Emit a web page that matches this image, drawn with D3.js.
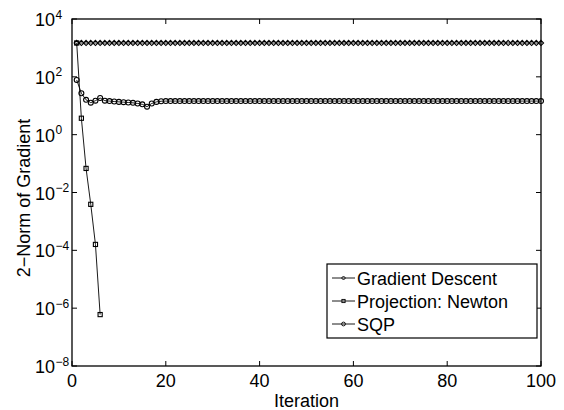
<!DOCTYPE html>
<html>
<head>
<meta charset="utf-8">
<script src="https://cdn.jsdelivr.net/npm/d3@7"></script>
<style>
body { margin: 0; background: #fff; }
text { font-family: "Liberation Sans", Arial, Helvetica, sans-serif; fill: #000; }
</style>
</head>
<body>
<div id="vis"></div>
<script>
// values, one per iteration (starting at 1)
var gradDescent = [
	1480, 1480, 1480, 1480, 1480, 1480, 1480, 1480, 1480, 1480,
	1480, 1480, 1480, 1480, 1480, 1480, 1480, 1480, 1480, 1480,
	1480, 1480, 1480, 1480, 1480, 1480, 1480, 1480, 1480, 1480,
	1480, 1480, 1480, 1480, 1480, 1480, 1480, 1480, 1480, 1480,
	1480, 1480, 1480, 1480, 1480, 1480, 1480, 1480, 1480, 1480,
	1480, 1480, 1480, 1480, 1480, 1480, 1480, 1480, 1480, 1480,
	1480, 1480, 1480, 1480, 1480, 1480, 1480, 1480, 1480, 1480,
	1480, 1480, 1480, 1480, 1480, 1480, 1480, 1480, 1480, 1480,
	1480, 1480, 1480, 1480, 1480, 1480, 1480, 1480, 1480, 1480,
	1480, 1480, 1480, 1480, 1480, 1480, 1480, 1480, 1480, 1480
];

var projNewton = [1480, 3.7, 0.068, 0.0039, 1.6e-4, 6e-7];

var sqp = [
	78, 27, 16, 12.8, 15, 18.5, 15, 14.5, 14, 13.6,
	13.3, 13, 12.6, 12, 11.2, 9.3, 12, 13.6, 14.3, 14.5,
	14.5, 14.5, 14.5, 14.5, 14.5, 14.5, 14.5, 14.5, 14.5, 14.5,
	14.5, 14.5, 14.5, 14.5, 14.5, 14.5, 14.5, 14.5, 14.5, 14.5,
	14.5, 14.5, 14.5, 14.5, 14.5, 14.5, 14.5, 14.5, 14.5, 14.5,
	14.5, 14.5, 14.5, 14.5, 14.5, 14.5, 14.5, 14.5, 14.5, 14.5,
	14.5, 14.5, 14.5, 14.5, 14.5, 14.5, 14.5, 14.5, 14.5, 14.5,
	14.5, 14.5, 14.5, 14.5, 14.5, 14.5, 14.5, 14.5, 14.5, 14.5,
	14.5, 14.5, 14.5, 14.5, 14.5, 14.5, 14.5, 14.5, 14.5, 14.5,
	14.5, 14.5, 14.5, 14.5, 14.5, 14.5, 14.5, 14.5, 14.5, 14.5
];

var seriesNames = ["Gradient Descent", "Projection: Newton", "SQP"];
var xTicks = [0, 20, 40, 60, 80, 100];
var yExponents = [4, 2, 0, -2, -4, -6, -8];

// size and margins
var width = 564;
var height = 410;
var margin = { top: 19, left: 72, bottom: 44, right: 23 };
var w = width - margin.left - margin.right;
var h = height - margin.top - margin.bottom;

var svg = d3.select('#vis').append('svg')
	.attr('width', width)
	.attr('height', height);

var g = svg.append('g').attr('transform', 'translate(' + margin.left + ',' + margin.top + ')');

var x = d3.scaleLinear().domain([0, 100]).range([0, w]);
var y = d3.scaleLog().domain([1e-8, 1e4]).range([h, 0]);

var series = [
	{ name: seriesNames[0], values: gradDescent, marker: 'diamond' },
	{ name: seriesNames[1], values: projNewton, marker: 'square' },
	{ name: seriesNames[2], values: sqp, marker: 'circle' }
];

var line = d3.line()
	.x(function (d, i) { return x(i + 1); })
	.y(function (d) { return y(d); });

function drawMarker(sel, type, s) {
	if (type === 'diamond') {
		sel.append('path').attr('d', 'M0,' + (-s) + 'L' + s + ',0L0,' + s + 'L' + (-s) + ',0Z');
	} else if (type === 'square') {
		sel.append('rect').attr('x', -s * 0.8).attr('y', -s * 0.8).attr('width', s * 1.6).attr('height', s * 1.6);
	} else {
		sel.append('circle').attr('r', s * 0.95);
	}
}

series.forEach(function (s) {
	g.append('path')
		.datum(s.values)
		.attr('fill', 'none')
		.attr('stroke', '#000')
		.attr('stroke-width', 0.9)
		.attr('d', line);

	g.append('g').selectAll('.m')
		.data(s.values)
		.enter().append('g')
		.attr('transform', function (d, i) { return 'translate(' + x(i + 1) + ',' + y(d) + ')'; })
		.attr('fill', 'none')
		.attr('stroke', '#000')
		.attr('stroke-width', 1.1)
		.each(function () { drawMarker(d3.select(this), s.marker, 2.6); });
});

// box and inward ticks
g.append('rect')
	.attr('width', w).attr('height', h)
	.attr('fill', 'none').attr('stroke', '#000').attr('stroke-width', 1.3);

var tl = 5;
xTicks.forEach(function (t) {
	g.append('line').attr('x1', x(t)).attr('x2', x(t)).attr('y1', h).attr('y2', h - tl).attr('stroke', '#000');
	g.append('line').attr('x1', x(t)).attr('x2', x(t)).attr('y1', 0).attr('y2', tl).attr('stroke', '#000');
	g.append('text')
		.attr('x', x(t)).attr('y', h + 21)
		.attr('text-anchor', 'middle')
		.style('font-size', '18px')
		.text(t);
});

yExponents.forEach(function (e) {
	var yy = y(Math.pow(10, e));
	g.append('line').attr('x1', 0).attr('x2', tl).attr('y1', yy).attr('y2', yy).attr('stroke', '#000');
	g.append('line').attr('x1', w).attr('x2', w - tl).attr('y1', yy).attr('y2', yy).attr('stroke', '#000');
	g.append('text')
		.attr('x', -17).attr('y', yy + 7)
		.attr('text-anchor', 'end')
		.style('font-size', '18px')
		.text('10');
	g.append('text')
		.attr('x', -16.5).attr('y', yy - 0.5)
		.style('font-size', '12px')
		.text(e < 0 ? '\u2212' + (-e) : e);
});

// axis labels
g.append('text')
	.attr('x', w / 2).attr('y', h + 41)
	.attr('text-anchor', 'middle')
	.style('font-size', '18px')
	.text('Iteration');

g.append('text')
	.attr('transform', 'translate(' + (30 - margin.left) + ',' + (198 - margin.top) + ') rotate(-90)')
	.attr('text-anchor', 'middle')
	.style('font-size', '18px')
	.text('2\u2212Norm of Gradient');

// legend
var lg = svg.append('g').attr('transform', 'translate(327,264)');
lg.append('rect')
	.attr('width', 210).attr('height', 74)
	.attr('fill', '#fff').attr('stroke', '#000').attr('stroke-width', 1.2);

series.forEach(function (s, i) {
	var ry = 14 + i * 23;
	lg.append('line').attr('x1', 5).attr('x2', 28).attr('y1', ry).attr('y2', ry)
		.attr('stroke', '#000').attr('stroke-width', 0.9);
	var mk = lg.append('g').attr('transform', 'translate(16.5,' + ry + ')')
		.attr('fill', 'none').attr('stroke', '#000').attr('stroke-width', 0.9);
	drawMarker(mk, s.marker, 2);
	lg.append('text')
		.attr('x', 30).attr('y', ry + 6.5)
		.style('font-size', '18px')
		.text(s.name);
});
</script>
</body>
</html>
